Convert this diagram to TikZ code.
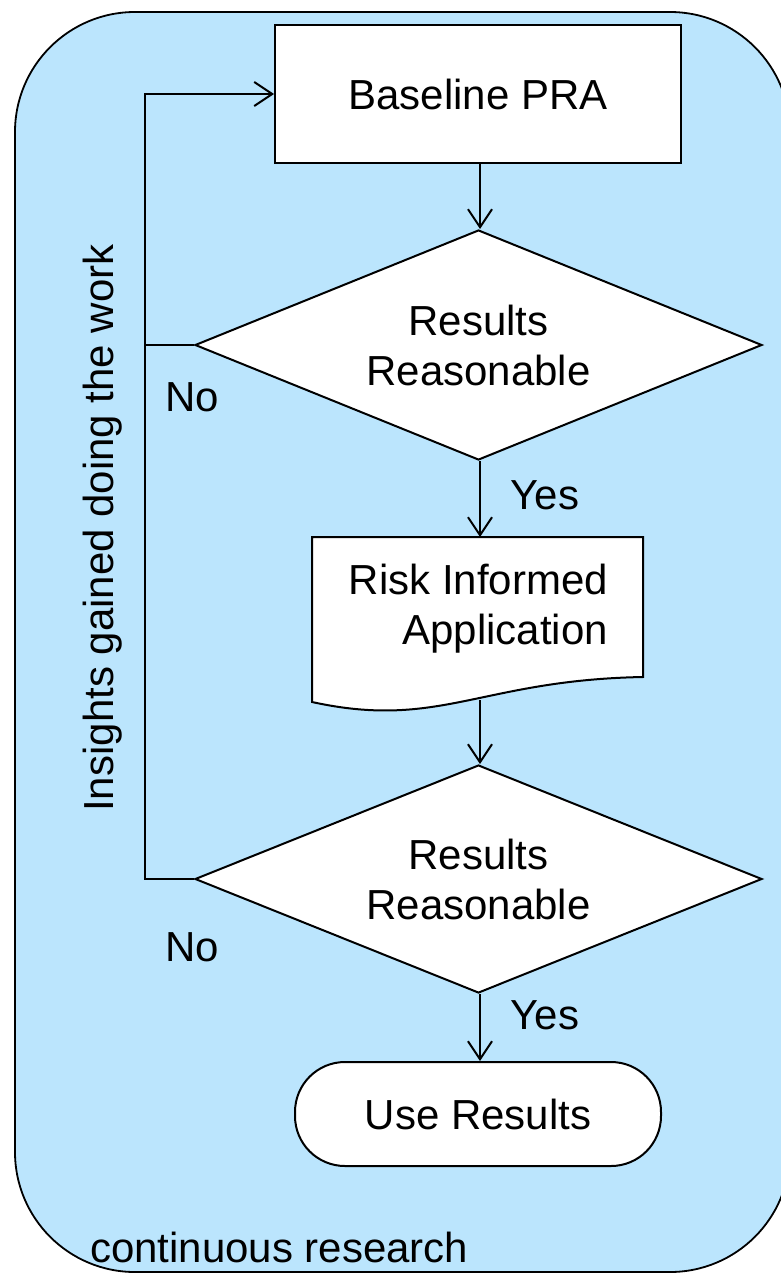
\documentclass[tikz,border=0pt]{standalone}
\usepackage{fontspec}
\setmainfont{Liberation Sans}
\usetikzlibrary{shapes.geometric,arrows.meta}
\definecolor{bgblue}{RGB}{187,229,253}
\tikzset{
  every node/.style={font=\fontsize{42}{50}\selectfont},
  box/.style={draw, fill=white, line width=2pt, inner sep=0pt},
  dia/.style={draw, fill=white, diamond, aspect=2.47, line width=2pt, inner sep=0pt, minimum width=567pt, minimum height=230pt, align=center},
  conn/.style={line width=2pt},
  arr/.style={line width=2pt, -{Straight Barb[length=18pt,width=24pt]}},
  lbl/.style={inner sep=0pt}
}
\begin{document}
\begin{tikzpicture}[x=1pt,y=-1pt]
\useasboundingbox (0,0) rectangle (781,1274);
\begin{scope}
\clip (0,0) rectangle (781,1274);
\draw[fill=bgblue, line width=1.8pt, rounded corners=120pt] (15,12) rectangle (790,1272);
\end{scope}

\node[box, minimum width=406pt, minimum height=138pt] (base) at (478,94) {Baseline PRA};
\node[dia] (d1) at (478.5,345) {Results\\Reasonable};
% document shape
\draw[line width=2pt, fill=white] (312,537) -- (643,537) -- (643,677)
  .. controls (480,680) and (440,730) .. (312,702) -- cycle;
\coordinate (doctop) at (480,537);
\coordinate (docbot) at (480,700);
\node[lbl, align=right, anchor=east] (doctext) at (608,609) {Risk Informed\\Application};
\node[dia, minimum height=228pt] (d2) at (478.5,879) {Results\\Reasonable};
\node[box, minimum width=366pt, minimum height=104pt, rounded corners=50pt] (use) at (478,1114) {Use Results};

\coordinate (lx) at (145,0);

\draw[arr] (base.south -| doctop) -- (d1.north -| doctop);
\draw[arr] (d1.south -| doctop) -- (doctop);
\draw[arr] (docbot) -- (d2.north -| doctop);
\draw[arr] (d2.south -| doctop) -- (use.north -| doctop);
\draw[conn] (d1.west) -- (d1.west -| lx);
\draw[arr] (d2.west) -- (d2.west -| lx) |- (base.west);

\node[lbl] (no1) at (192,397) {No};
\node[lbl] (no2) at (192,947) {No};
\node[lbl] (yes1) at (545,495) {Yes};
\node[lbl] (yes2) at (545,1015) {Yes};
\node[lbl, rotate=90] (ins) at (103,528) {Insights gained doing the work};
\node[lbl, anchor=base west] (cont) at (90,1262) {continuous research};
\end{tikzpicture}
\end{document}
